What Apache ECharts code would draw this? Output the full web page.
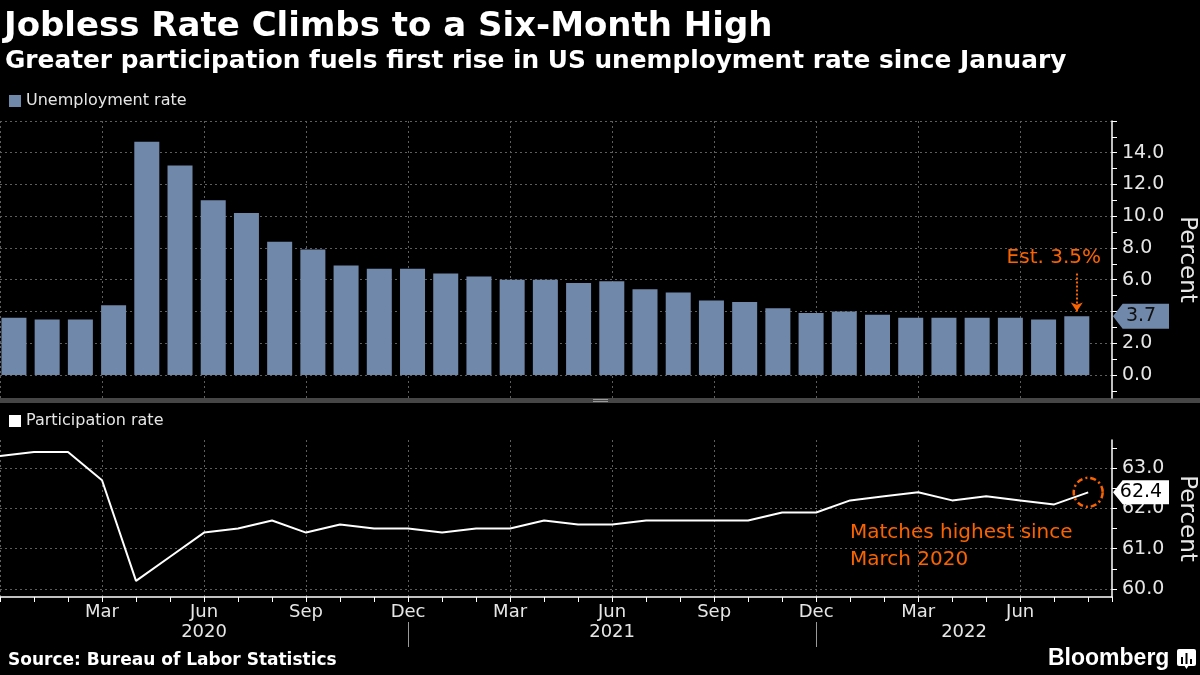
<!DOCTYPE html>
<html>
<head>
<meta charset="utf-8">
<script src="https://cdn.jsdelivr.net/npm/echarts@6/dist/echarts.min.js"></script>
<style>html,body{margin:0;padding:0;background:#000;}#c{width:1200px;height:675px;}</style>
</head>
<body>
<div id="c"></div>
<script>
// ---- data ----
const months = ['2019-12','2020-01','2020-02','2020-03','2020-04','2020-05','2020-06','2020-07','2020-08','2020-09','2020-10','2020-11','2020-12',
  '2021-01','2021-02','2021-03','2021-04','2021-05','2021-06','2021-07','2021-08','2021-09','2021-10','2021-11','2021-12',
  '2022-01','2022-02','2022-03','2022-04','2022-05','2022-06','2022-07','2022-08'];
const unemployment = [3.6,3.5,3.5,4.4,14.7,13.2,11.0,10.2,8.4,7.9,6.9,6.7,6.7,6.4,6.2,6.0,6.0,5.8,5.9,5.4,5.2,4.7,4.6,4.2,3.9,4.0,3.8,3.6,3.6,3.6,3.6,3.5,3.7];
const participation = [63.3,63.4,63.4,62.7,60.2,60.8,61.4,61.5,61.7,61.4,61.6,61.5,61.5,61.4,61.5,61.5,61.7,61.6,61.6,61.7,61.7,61.7,61.7,61.9,61.9,62.2,62.3,62.4,62.2,62.3,62.2,62.1,62.4];
const monthNames = ['Jan','Feb','Mar','Apr','May','Jun','Jul','Aug','Sep','Oct','Nov','Dec'];
const unempTicks = [-1,0,1,2,3,4,5,6,7,8,9,10,11,12,13,14,15,16];
const unempLabels = [0,2,4,6,8,10,12,14];
const partTicks = [60,60.5,61,61.5,62,62.5,63,63.5];
const partLabels = [60,61,62,63];
const estimate = 3.5;
const titleText = 'Jobless Rate Climbs to a Six-Month High';
const subtitleText = 'Greater participation fuels first rise in US unemployment rate since January';
const sourceText = 'Source: Bureau of Labor Statistics';
const noteText = 'Matches highest since\nMarch 2020';

// ---- layout/style ----
const FONT = 'DejaVu Sans';
const ORANGE = '#fa6300';
const BAR = '#7088aa';
const LABEL = '#e6e6e6';
const GRIDC = '#5e5e5e';
const RIGHT = 88;
const topG = {top: 121, bottom: 675 - 398};
const botG = {top: 440, bottom: 675 - 597};
const uMin = -1.45, uMax = 16;
const pMin = 59.8, pMax = 63.7;
const mMax = 32.7;          // month-tick axis extent
const bMin = -0.42, bMax = 33.06; // bar axis extent
const last = months.length - 1;

function gridBox(top, bottom) {
  return {left: 0, right: RIGHT, top: top, bottom: bottom, containLabel: false, outerBoundsMode: 'none'};
}
// overlay grids for the horizontal gridlines, aligned with the data axes
function overlay(g, min, max, lo, hi) {
  const h = 675 - g.top - g.bottom;
  return gridBox(g.top + (max - hi) / (max - min) * h, g.bottom + (lo - min) / (max - min) * h);
}
const topOv = overlay(topG, uMin, uMax, 0, 16);
const botOv = overlay(botG, pMin, pMax, 60, 63);

const dotted = {color: GRIDC, type: [2, 3], width: 1};
const hidden = {show: false};

// year blocks: separators at each December, labels centred in each block
const decIdx = months.map((m, i) => m.endsWith('-12') ? i : -1).filter(i => i >= 0);
const bounds = decIdx.concat([mMax]);
const yearCenters = [], yearNames = [];
for (let k = 0; k < bounds.length - 1; k++) {
  yearCenters.push((bounds[k] + bounds[k + 1]) / 2);
  yearNames.push(String(Number(months[bounds[k]].slice(0, 4)) + 1));
}
const separators = decIdx.filter(i => i > 0);

const tagPath = 'path://M0,12 L10,0 L58,0 L58,24 L10,24 Z';

const yLine = {show: true, onZero: false, lineStyle: {color: '#fff', width: 1.5}};

const chart = echarts.init(document.getElementById('c'), null, {renderer: 'canvas'});
chart.setOption({
  backgroundColor: '#000',
  animation: false,
  textStyle: {fontFamily: FONT},
  legend: [
    {data: ['Unemployment rate'], left: 9, top: 93, padding: 0, icon: 'rect', itemWidth: 12, itemHeight: 12,
     selectedMode: false, textStyle: {color: LABEL, fontSize: 16, fontFamily: FONT}},
    {data: ['Participation rate'], left: 9, top: 413, padding: 0, icon: 'rect', itemWidth: 12, itemHeight: 12,
     selectedMode: false, textStyle: {color: LABEL, fontSize: 16, fontFamily: FONT}}
  ],
  grid: [
    gridBox(topG.top, topG.bottom),
    topOv,
    gridBox(botG.top, botG.bottom),
    botOv
  ],
  xAxis: [
    {gridIndex: 0, type: 'value', min: bMin, max: bMax, show: false},
    {gridIndex: 0, type: 'value', min: 0, max: mMax, interval: 3,
     axisLine: hidden, axisTick: hidden, axisLabel: hidden,
     splitLine: {show: true, showMaxLine: false, lineStyle: dotted}},
    {gridIndex: 1, type: 'value', min: 0, max: mMax, show: false},
    {gridIndex: 2, type: 'value', min: 0, max: mMax, interval: 1,
     axisLine: {show: true, onZero: false, lineStyle: {color: '#fff', width: 1.5}},
     axisTick: {show: true, length: 5, lineStyle: {color: '#fff', width: 1}},
     axisLabel: {color: LABEL, fontSize: 18, margin: 6, fontFamily: FONT,
       formatter: v => (Number.isInteger(v) && v > 0 && v % 3 === 0 && months[v]) ? monthNames[Number(months[v].slice(5)) - 1] : ''},
     splitLine: hidden},
    {gridIndex: 2, type: 'value', min: 0, max: mMax, interval: 3,
     axisLine: hidden, axisTick: hidden, axisLabel: hidden,
     splitLine: {show: true, showMaxLine: false, lineStyle: dotted}},
    {gridIndex: 2, type: 'value', min: 0, max: mMax, position: 'bottom', offset: 25,
     axisLine: {show: false, onZero: false},
     axisTick: {show: true, customValues: separators, length: 25, lineStyle: {color: '#9a9a9a', width: 1}},
     axisLabel: {show: true, customValues: yearCenters, color: LABEL, fontSize: 18, margin: 1, fontFamily: FONT,
       formatter: v => { const k = yearCenters.findIndex(c => Math.abs(c - v) < 1e-6); return k >= 0 ? yearNames[k] : ''; }},
     splitLine: hidden},
    {gridIndex: 3, type: 'value', min: 0, max: mMax, show: false}
  ],
  yAxis: [
    {gridIndex: 0, type: 'value', position: 'right', min: uMin, max: uMax,
     name: 'Percent', nameLocation: 'middle', nameRotate: -90, nameGap: 62,
     nameTextStyle: {color: LABEL, fontSize: 23, fontFamily: FONT},
     axisLine: yLine,
     axisTick: {show: true, customValues: unempTicks, length: 5, lineStyle: {color: '#fff'}},
     axisLabel: {show: true, customValues: unempLabels, color: LABEL, fontSize: 19, margin: 10, fontFamily: FONT,
       // labels hidden beneath the last-value tag
       formatter: v => Math.abs(v - unemployment[last]) < 0.8 ? '' : v.toFixed(1)},
     splitLine: hidden},
    {gridIndex: 1, type: 'value', position: 'right', min: 0, max: 16, interval: 2,
     axisLine: {show: false, onZero: false}, axisTick: hidden, axisLabel: hidden,
     splitLine: {show: true, lineStyle: dotted}},
    {gridIndex: 2, type: 'value', position: 'right', min: pMin, max: pMax,
     name: 'Percent', nameLocation: 'middle', nameRotate: -90, nameGap: 62,
     nameTextStyle: {color: LABEL, fontSize: 23, fontFamily: FONT},
     axisLine: yLine,
     axisTick: {show: true, customValues: partTicks, length: 5, lineStyle: {color: '#fff'}},
     axisLabel: {show: true, customValues: partLabels, color: LABEL, fontSize: 19, margin: 10, fontFamily: FONT,
       formatter: v => v.toFixed(1)},
     splitLine: hidden},
    {gridIndex: 3, type: 'value', position: 'right', min: 60, max: 63, interval: 1,
     axisLine: {show: false, onZero: false}, axisTick: hidden, axisLabel: hidden,
     splitLine: {show: true, lineStyle: dotted}}
  ],
  series: [
    {
      name: 'Unemployment rate', type: 'bar', xAxisIndex: 0, yAxisIndex: 0,
      data: unemployment.map((v, i) => [i, v]),
      barWidth: 25, itemStyle: {color: BAR}, clip: false,
      markPoint: {
        silent: true,
        data: [{
          coord: [bMax, unemployment[last]], symbol: tagPath, symbolSize: [56, 25], symbolOffset: [29, 0],
          itemStyle: {color: BAR},
          label: {show: true, position: 'inside', formatter: unemployment[last].toFixed(1), color: '#111', fontSize: 19, fontFamily: FONT}
        }]
      },
      markLine: {
        silent: true, symbol: ['none', 'arrow'], symbolSize: [9, 9],
        lineStyle: {color: ORANGE, type: [2, 2], width: 2},
        label: {show: true, position: 'start', formatter: 'Est. ' + estimate + '%', color: ORANGE, fontSize: 20,
          fontFamily: FONT, padding: [0, 46, 0, 0], distance: 6},
        data: [[{coord: [last, 6.4]}, {coord: [last, 4.0]}]]
      }
    },
    {
      name: 'Participation rate', type: 'line', xAxisIndex: 3, yAxisIndex: 2,
      data: participation.map((v, i) => [i, v]),
      showSymbol: false, symbol: 'none', clip: false,
      itemStyle: {color: '#fff'}, lineStyle: {color: '#fff', width: 2},
      markPoint: {
        silent: true,
        data: [
          {coord: [last, participation[last]], symbol: 'circle', symbolSize: 29,
           itemStyle: {color: 'rgba(0,0,0,0)', borderColor: ORANGE, borderWidth: 2.5, borderType: [6, 3, 2, 3]},
           label: {show: false}},
          {coord: [mMax, participation[last]], symbol: tagPath, symbolSize: [56, 24], symbolOffset: [29, 0],
           itemStyle: {color: '#fff'},
           label: {show: true, position: 'inside', formatter: participation[last].toFixed(1), color: '#000', fontSize: 19, fontFamily: FONT}}
        ]
      }
    }
  ],
  graphic: [
    {type: 'text', left: 4, top: 10, style: {text: titleText, fill: '#fff', font: 'bold 34px "DejaVu Sans"'}},
    {type: 'text', left: 5, top: 49, style: {text: subtitleText, fill: '#fff', font: 'bold 24.8px "DejaVu Sans"'}},
    {type: 'rect', left: 0, top: 398, shape: {width: 1200, height: 5}, style: {fill: '#464646'}},
    {type: 'rect', left: 593, top: 399, shape: {width: 15, height: 1}, style: {fill: '#9a9a9a'}},
    {type: 'rect', left: 593, top: 401, shape: {width: 15, height: 1}, style: {fill: '#9a9a9a'}},
    {type: 'text', left: 850, top: 519, style: {text: noteText, fill: ORANGE, font: '20px "DejaVu Sans"', lineHeight: 27}},
    {type: 'text', left: 8, top: 652, style: {text: sourceText, fill: '#fff', font: 'bold 17px "DejaVu Sans"'}},
    {type: 'text', left: 1048, top: 647, style: {text: 'Bloomberg', fill: '#fff', font: 'bold 23px "Liberation Sans"'}},
    {type: 'group', left: 1177, top: 649, children: [
      {type: 'rect', shape: {x: 0, y: 0, width: 19, height: 17, r: 2}, style: {fill: '#fff'}},
      {type: 'polygon', shape: {points: [[7, 16], [12, 16], [9.5, 20]]}, style: {fill: '#fff'}},
      {type: 'rect', shape: {x: 4, y: 8, width: 2, height: 7}, style: {fill: '#000'}},
      {type: 'rect', shape: {x: 8.5, y: 4, width: 2, height: 11}, style: {fill: '#000'}},
      {type: 'rect', shape: {x: 13, y: 10, width: 2, height: 5}, style: {fill: '#000'}}
    ]}
  ]
});
</script>
</body>
</html>
